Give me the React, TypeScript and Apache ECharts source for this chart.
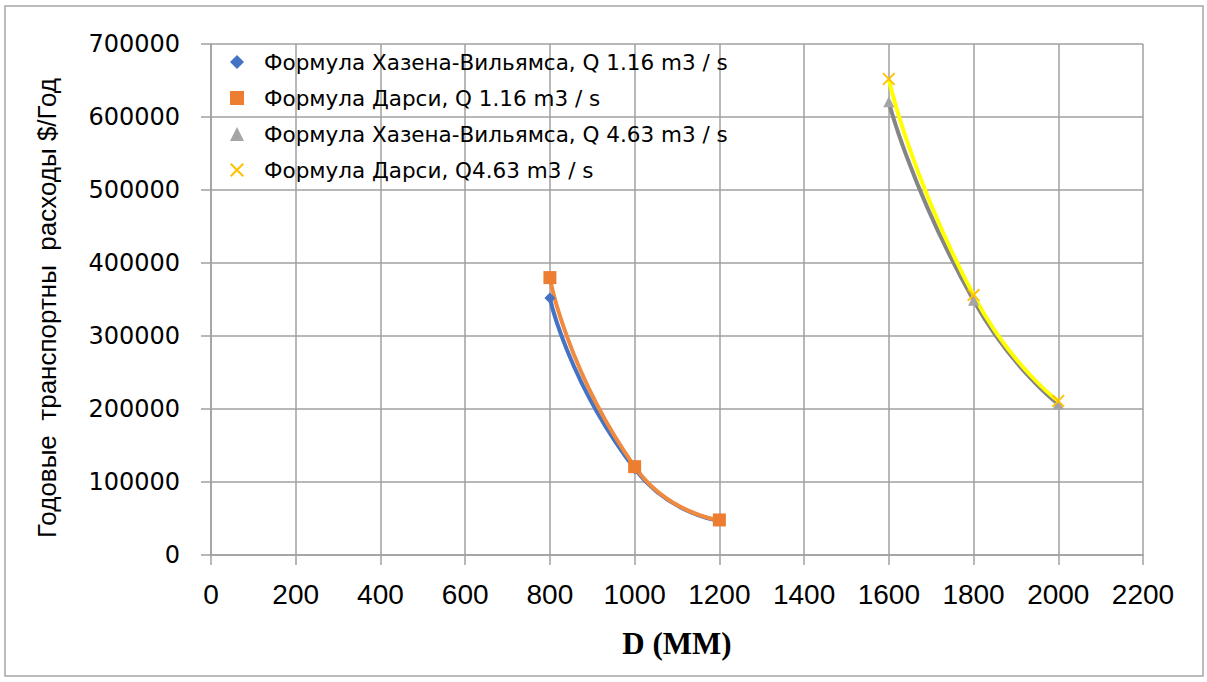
import React, { useEffect, useRef } from "react";
import * as echarts from "echarts";

const seriesNames = [
  "Формула Хазена-Вильямса, Q 1.16 m3 / s",
  "Формула Дарси, Q 1.16 m3 / s",
  "Формула Хазена-Вильямса, Q 4.63 m3 / s",
  "Формула Дарси, Q4.63 m3 / s",
];
const hw116: [number, number][] = [
  [800, 352000],
  [1000, 118000],
  [1200, 47000],
];
const darcy116: [number, number][] = [
  [800, 380000],
  [1000, 121000],
  [1200, 48000],
];
const hw463: [number, number][] = [
  [1600, 621000],
  [1800, 349000],
  [2000, 207000],
];
const darcy463: [number, number][] = [
  [1600, 652000],
  [1800, 356000],
  [2000, 211000],
];
const yTitle = "Годовые \u00a0транспортны \u00a0расходы $/Год";
const xTitle = "D (MM)";

const crossPath =
  "path://M0,1L1,0L10,9L9,10Z M9,0L10,1L1,10L0,9Z";

export default function App() {
  const ref = useRef<HTMLDivElement>(null);
  useEffect(() => {
    if (!ref.current) return;
    const chart = echarts.init(ref.current, undefined, { renderer: "svg" });
    const grid = "#a0a0a0";
    const mkSeries = (
      name: string,
      data: [number, number][],
      lineColor: string,
      markColor: string,
      symbol: string,
      size: number
    ) => ({
      type: "line",
      name,
      data,
      smooth: 0.6,
      symbol,
      symbolSize: size,
      showSymbol: true,
      lineStyle: { color: lineColor, width: 4 },
      itemStyle: { color: markColor },
      emphasis: { disabled: true },
    });
    chart.setOption({
      animation: false,
      backgroundColor: "#ffffff",
      grid: { left: 211, top: 44, right: 64, bottom: 127 },
      legend: {
        orient: "vertical",
        left: 225,
        top: 46,
        itemWidth: 14,
        itemHeight: 14,
        itemGap: 14,
        selectedMode: false,
        textStyle: {
          fontFamily: "DejaVu Sans",
          fontSize: 21.5,
          color: "#000",
          padding: [0, 0, 0, 15],
        },
        data: [
          { name: seriesNames[0], icon: "diamond", itemStyle: { color: "#4472C4" } },
          { name: seriesNames[1], icon: "rect", itemStyle: { color: "#ED7D31" } },
          { name: seriesNames[2], icon: "triangle", itemStyle: { color: "#A5A5A5" } },
          { name: seriesNames[3], icon: crossPath, itemStyle: { color: "#FFC000" } },
        ],
      },
      xAxis: {
        type: "value",
        min: 0,
        max: 2200,
        interval: 200,
        axisLine: { show: true, lineStyle: { color: grid, width: 1.5 } },
        axisTick: { show: true, length: 10, inside: false, lineStyle: { color: grid, width: 1.5 } },
        splitLine: { show: true, lineStyle: { color: grid, width: 1.5 } },
        axisLabel: {
          margin: 25,
          fontFamily: "Liberation Sans",
          fontSize: 28,
          color: "#000",
          formatter: (v: number) => String(v),
        },
      },
      yAxis: {
        type: "value",
        min: 0,
        max: 700000,
        interval: 100000,
        axisLine: { show: true, lineStyle: { color: grid, width: 1.5 } },
        axisTick: { show: true, length: 10, inside: false, lineStyle: { color: grid, width: 1.5 } },
        splitLine: { show: true, lineStyle: { color: grid, width: 1.5 } },
        axisLabel: {
          margin: 31,
          fontFamily: "DejaVu Sans",
          fontSize: 24,
          color: "#000",
          formatter: (v: number) => String(v),
        },
      },
      graphic: [
        {
          type: "rect",
          shape: { x: 5, y: 6, width: 1198, height: 670 },
          style: { fill: "none", stroke: "#a6a6a6", lineWidth: 1.5 },
          silent: true,
        },
        {
          type: "text",
          x: 47,
          y: 308,
          rotation: Math.PI / 2,
          style: {
            text: yTitle,
            fontFamily: "Liberation Sans",
            fontSize: 26,
            fill: "#000",
            align: "center",
            verticalAlign: "middle",
          },
        },
        {
          type: "text",
          x: 677,
          y: 643,
          style: {
            text: xTitle,
            fontFamily: "Liberation Serif, serif",
            fontWeight: "bold",
            fontSize: 31,
            fill: "#000",
            align: "center",
            verticalAlign: "middle",
          },
        },
      ],
      series: [
        mkSeries(seriesNames[0], hw116, "#4472C4", "#4472C4", "diamond", 11),
        mkSeries(seriesNames[1], darcy116, "#F08A3E", "#ED7D31", "rect", 13),
        mkSeries(seriesNames[2], hw463, "#858585", "#A5A5A5", "triangle", 11),
        mkSeries(seriesNames[3], darcy463, "#FFFF00", "#FFC000", crossPath, 13),
      ],
    });
    return () => chart.dispose();
  }, []);
  return (
    <div
      ref={ref}
      style={{ position: "absolute", left: 0, top: 0, width: 1207, height: 682 }}
    />
  );
}
